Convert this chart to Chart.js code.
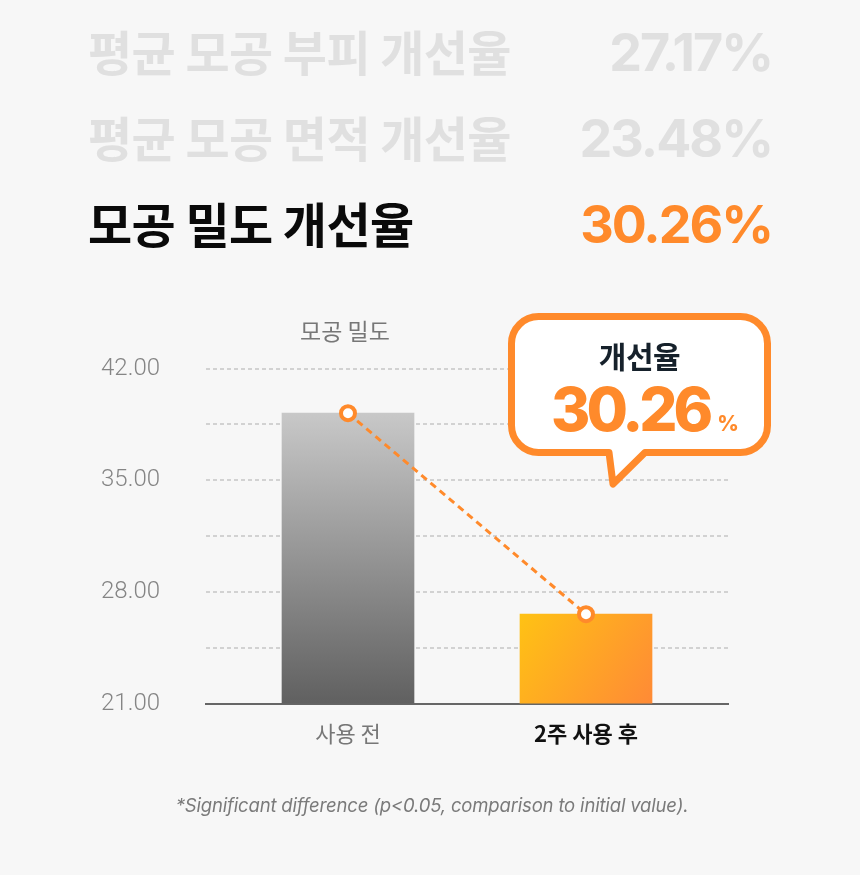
<!DOCTYPE html>
<html>
<head>
<meta charset="utf-8">
<script src="https://cdn.jsdelivr.net/npm/chart.js@4/dist/chart.umd.min.js"></script>
<style>
html,body{margin:0;padding:0;background:#f7f7f7;}
#wrap{position:relative;width:860px;height:875px;overflow:hidden;background:#f7f7f7;}
#chart{position:absolute;left:0;top:0;}
.row{position:absolute;left:88px;width:682px;display:flex;justify-content:space-between;align-items:baseline;height:46px;line-height:46px;white-space:nowrap;}
.ko{font-family:"Noto Sans CJK KR","Noto Sans",sans-serif;font-weight:700;font-size:48px;letter-spacing:-0.6px;}
.num{font-family:Inter,"Noto Sans",sans-serif;font-weight:700;font-size:52px;letter-spacing:-2px;margin-right:-2px;}
#ctitle{position:absolute;left:245px;top:319px;width:200px;text-align:center;font-family:"Noto Sans CJK KR",sans-serif;font-size:23px;line-height:23px;color:#777;}
#callout{position:absolute;left:0;top:0;}
#cl1{position:absolute;left:508px;top:338px;width:263px;text-align:center;font-family:"Noto Sans CJK KR",sans-serif;font-weight:700;font-size:30px;line-height:34px;color:#16212b;letter-spacing:-0.5px;}
#cl2{position:absolute;left:519px;top:379px;width:252px;text-align:center;font-family:Inter,sans-serif;font-weight:800;color:#ff8a2b;line-height:60px;white-space:nowrap;}
#cl2 .big{font-size:60px;letter-spacing:-4px;}
#cl2 .pct{font-size:21px;margin-left:8px;}
#foot{position:absolute;left:2px;top:793px;width:860px;text-align:center;font-family:Inter,sans-serif;font-style:italic;font-size:18.5px;letter-spacing:-0.17px;color:#7a7a7a;line-height:24px;}
</style>
</head>
<body>
<div id="wrap">
  <canvas id="chart" width="860" height="875"></canvas>
  <div id="rows"></div>
  <div id="ctitle"></div>
  <svg id="callout" width="860" height="875" viewBox="0 0 860 875">
    <path d="M 538.5 316.5 H 740.5 A 27 27 0 0 1 767.5 343.5 V 425.5 A 27 27 0 0 1 740.5 452.5 H 645 L 613 484 L 609 452.5 H 538.5 A 27 27 0 0 1 511.5 425.5 V 343.5 A 27 27 0 0 1 538.5 316.5 Z"
      fill="#ffffff" stroke="#ff8a2b" stroke-width="7" stroke-linejoin="round"/>
  </svg>
  <div id="cl1"></div>
  <div id="cl2"></div>
  <div id="foot"></div>
</div>
<script>
// ---- data ----
const summaryLabels = ['평균 모공 부피 개선율', '평균 모공 면적 개선율', '모공 밀도 개선율'];
const summaryValues = [27.17, 23.48, 30.26];
const highlightIndex = 2;
const chartTitle = '모공 밀도';
const categories = ['사용 전', '2주 사용 후'];
const densityValues = [39.2, 26.6];
const yMin = 21;
const yMax = 42;
const yGridStep = 3.5;
const yLabelStep = 7;
const calloutLabel = '개선율';
const calloutValue = 30.26;
const footnote = '*Significant difference (p<0.05, comparison to initial value).';

const ORANGE = '#ff8a2b';

// ---- header rows ----
const rowsEl = document.getElementById('rows');
summaryLabels.forEach((lab, i) => {
  const r = document.createElement('div');
  r.className = 'row';
  r.style.top = (27 + i * 86) + 'px';
  const hl = i === highlightIndex;
  const a = document.createElement('span');
  a.className = 'ko';
  a.textContent = lab;
  a.style.color = hl ? '#0a0a0a' : '#e0e0e0';
  const b = document.createElement('span');
  b.className = 'num';
  b.textContent = summaryValues[i].toFixed(2) + '%';
  b.style.color = hl ? ORANGE : '#e0e0e0';
  r.appendChild(a); r.appendChild(b);
  rowsEl.appendChild(r);
});
document.getElementById('ctitle').textContent = chartTitle;
document.getElementById('cl1').textContent = calloutLabel;
document.getElementById('cl2').innerHTML = '<span class="big">' + calloutValue.toFixed(2) + '</span><span class="pct">%</span>';
document.getElementById('foot').textContent = footnote;

// ---- chart ----
const BAR_W = 132;
const points = densityValues.map((v, i) => ({ x: i, y: v }));
const canvas = document.getElementById('chart');
const ctx2 = canvas.getContext('2d');

function barFill(c) {
  const chart = c.chart;
  if (!chart.chartArea || c.dataIndex === undefined) return '#999';
  const i = c.dataIndex;
  const ys = chart.scales.y, xs = chart.scales.x;
  const top = ys.getPixelForValue(densityValues[i]);
  const base = ys.getPixelForValue(yMin);
  const cx = xs.getPixelForValue(i);
  let g;
  if (i === 0) {
    g = ctx2.createLinearGradient(0, top, 0, base);
    g.addColorStop(0, '#c8c8c8');
    g.addColorStop(1, '#606060');
  } else {
    g = ctx2.createLinearGradient(cx - BAR_W / 2, top, cx + BAR_W / 2, base);
    g.addColorStop(0, '#ffc214');
    g.addColorStop(1, '#ff8a36');
  }
  return g;
}

new Chart(canvas, {
  data: {
    datasets: [
      {
        type: 'line',
        data: points,
        borderColor: ORANGE,
        borderWidth: 3,
        borderDash: [7, 5],
        pointRadius: 7,
        pointHoverRadius: 7,
        pointBorderWidth: 4,
        pointBackgroundColor: '#ffffff',
        pointBorderColor: ORANGE,
        order: 0,
        clip: false
      },
      {
        type: 'bar',
        data: points,
        barThickness: BAR_W,
        backgroundColor: barFill,
        grouped: false,
        order: 1
      }
    ]
  },
  options: {
    responsive: false,
    animation: false,
    events: [],
    layout: { padding: { left: 0, right: 132, top: 368.5, bottom: 111.5 } },
    plugins: { legend: { display: false }, tooltip: { enabled: false }, title: { display: false } },
    scales: {
      x: {
        type: 'linear',
        offset: false,
        min: -0.5966,
        max: 1.5966,
        afterBuildTicks: s => { s.ticks = categories.map((c, i) => ({ value: i })); },
        afterFit: s => { s.height = 60; },
        ticks: {
          autoSkip: false,
          maxRotation: 0,
          padding: 17,
          callback: v => categories[v],
          font: c => ({ family: '"Noto Sans CJK KR", sans-serif', size: 22, weight: c.index === 1 ? 700 : 400 }),
          color: c => c.index === 1 ? '#111111' : '#777777'
        },
        grid: { display: false, drawTicks: false },
        border: { display: true, color: '#666666', width: 2 }
      },
      y: {
        min: yMin,
        max: yMax,
        afterFit: s => { s.width = 206; },
        ticks: {
          stepSize: yGridStep,
          padding: 46,
          callback: v => (Math.abs((v - yMin) % yLabelStep) < 1e-6 ? v.toFixed(2) : ''),
          font: { family: 'Roboto, sans-serif', size: 24, weight: 300 },
          color: '#858585'
        },
        grid: {
          color: c => (c.tick && c.tick.value === yMin) ? 'rgba(0,0,0,0)' : '#d2d2d2',
          lineWidth: 2,
          drawTicks: false
        },
        border: { display: false, dash: [4, 3] }
      }
    }
  }
});
</script>
</body>
</html>
